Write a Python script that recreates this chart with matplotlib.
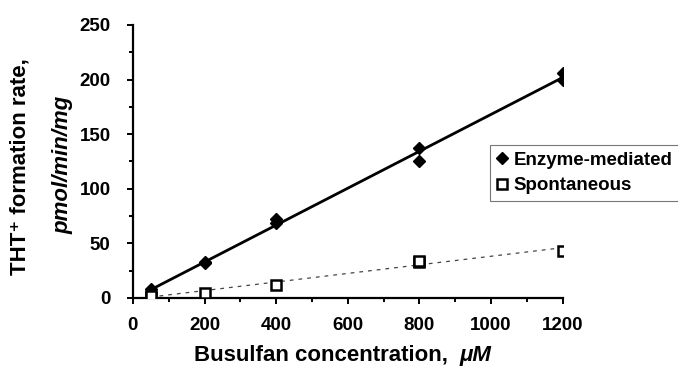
import numpy as np
import matplotlib.pyplot as plt
from matplotlib.ticker import MultipleLocator

# data
conc_enzyme = [50, 50, 200, 200, 400, 400, 800, 800, 1200, 1200]
rate_enzyme = [5, 8, 32, 33, 69, 72, 125, 137, 200, 206]
conc_spont = [50, 50, 200, 400, 800, 800, 1200]
rate_spont = [1, 2, 5, 12, 33, 34, 43]

plt.rcParams['font.family'] = ['Liberation Sans', 'DejaVu Sans']
plt.rcParams['font.weight'] = 'bold'

fig = plt.figure(figsize=(6.78, 3.84), dpi=100)
ax = fig.add_axes([0.196, 0.224, 0.634, 0.711])

# regression lines
xfit = np.array([50, 1200])
p1 = np.polyfit(conc_enzyme, rate_enzyme, 1)
p2 = np.polyfit(conc_spont, rate_spont, 1)
ax.plot(xfit, np.polyval(p1, xfit), color='black', lw=2, zorder=2)
ax.plot(xfit, np.polyval(p2, xfit), color='#444444', lw=0.9, ls=(0, (3, 4)), zorder=2)

ax.plot(conc_enzyme, rate_enzyme, 'D', color='black', ms=6, ls='none',
        label='Enzyme-mediated', zorder=3)
ax.plot(conc_spont, rate_spont, 's', mfc='white', mec='black', mew=1.8, ms=7,
        ls='none', label='Spontaneous', zorder=3)

ax.set_xlim(0, 1200)
ax.set_ylim(0, 250)
ax.xaxis.set_major_locator(MultipleLocator(200))
ax.xaxis.set_minor_locator(MultipleLocator(100))
ax.yaxis.set_major_locator(MultipleLocator(50))
ax.yaxis.set_minor_locator(MultipleLocator(25))
for s in ['top', 'right']:
    ax.spines[s].set_visible(False)
for s in ['left', 'bottom']:
    ax.spines[s].set_linewidth(1.6)
ax.tick_params(which='both', direction='out', width=1.4, labelsize=13.5)
ax.tick_params(which='major', length=4)
ax.tick_params(which='minor', length=3)
ax.tick_params(axis='x', pad=10)
ax.tick_params(axis='y', pad=12)
for lab in ax.get_xticklabels() + ax.get_yticklabels():
    lab.set_fontweight('bold')

# axis titles
fig.text(0.03, 0.565, 'THT\u207a formation rate,', rotation=90, ha='center', va='center',
         fontsize=16, fontweight='bold')
fig.text(0.093, 0.57, 'pmol/min/mg', rotation=90, ha='center', va='center',
         fontsize=16, fontweight='bold', style='italic')
fig.text(0.678, 0.075, 'Busulfan concentration,  ', ha='right', va='center',
         fontsize=16, fontweight='bold')
fig.text(0.678, 0.075, '\u03bcM', ha='left', va='center',
         fontsize=16, fontweight='bold', style='italic')

leg = ax.legend(loc='upper left', bbox_to_anchor=(490 / 678, 1 - 145 / 384),
                bbox_transform=fig.transFigure, borderaxespad=0, frameon=True,
                fancybox=False, handlelength=0.6, handletextpad=0.3,
                borderpad=0.35, labelspacing=0.45, prop={'size': 13.5, 'weight': 'bold'})
leg.get_frame().set_edgecolor('#555555')
leg.get_frame().set_linewidth(0.8)

fig.savefig('out.png', dpi=100)
